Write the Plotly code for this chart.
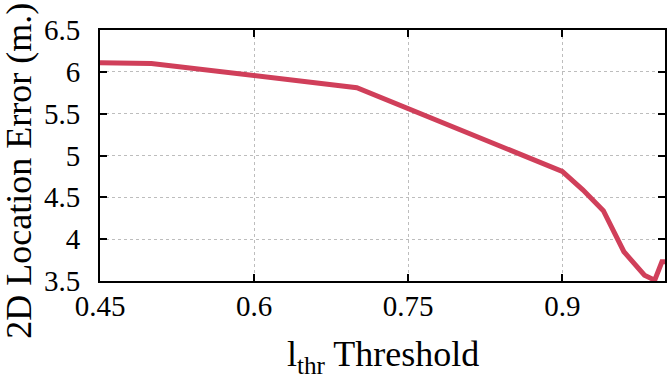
import plotly.graph_objects as go

thresholds = [0.45, 0.5, 0.7, 0.9, 0.92, 0.94, 0.96, 0.98, 0.99, 0.997, 1.0]
errors = [6.11, 6.10, 5.81, 4.81, 4.59, 4.34, 3.85, 3.57, 3.51, 3.73, 3.73]
x_ticks = [0.45, 0.6, 0.75, 0.9]
y_ticks = [3.5, 4, 4.5, 5, 5.5, 6, 6.5]
y_tick_text = ["3.5", "4", "4.5", "5", "5.5", "6", "6.5"]

FONT = "Liberation Serif, Times New Roman, serif"

fig = go.Figure()
fig.add_trace(go.Scatter(x=thresholds, y=errors, mode="lines",
                         line=dict(color="#d03f5a", width=5),
                         showlegend=False, cliponaxis=True))

axis_common = dict(showline=True, linecolor="black", linewidth=2, mirror="ticks",
                   ticks="inside", ticklen=7, tickwidth=1.5, tickcolor="black",
                   showgrid=True, gridcolor="#bdbdbd", griddash="dot", gridwidth=1,
                   zeroline=False)

fig.update_xaxes(range=[0.45, 1.0], tickvals=x_ticks,
                 ticktext=[str(v) for v in x_ticks], ticklabelstandoff=-2,
                 tickfont=dict(family=FONT, size=29, color="black"), **axis_common)
fig.update_yaxes(range=[3.5, 6.5], tickvals=y_ticks, ticktext=y_tick_text,
                 ticklabelstandoff=12,
                 tickfont=dict(family=FONT, size=29, color="black"), **axis_common)

fig.add_annotation(text="l<sub>thr</sub> Threshold", xref="paper", yref="paper",
                   x=0.5, y=-0.205, xanchor="center", yanchor="top", showarrow=False,
                   font=dict(family=FONT, size=36, color="black"))
fig.add_annotation(text="2D Location Error (m.)", xref="paper", yref="paper",
                   x=-0.145, y=0.44, xanchor="center", yanchor="middle", textangle=-90,
                   showarrow=False, font=dict(family=FONT, size=36, color="black"))

fig.update_layout(width=671, height=375, margin=dict(l=100, r=4, t=30, b=94),
                  font=dict(family=FONT, size=28, color="black"),
                  plot_bgcolor="white", paper_bgcolor="white")

fig.write_html("out.html")
